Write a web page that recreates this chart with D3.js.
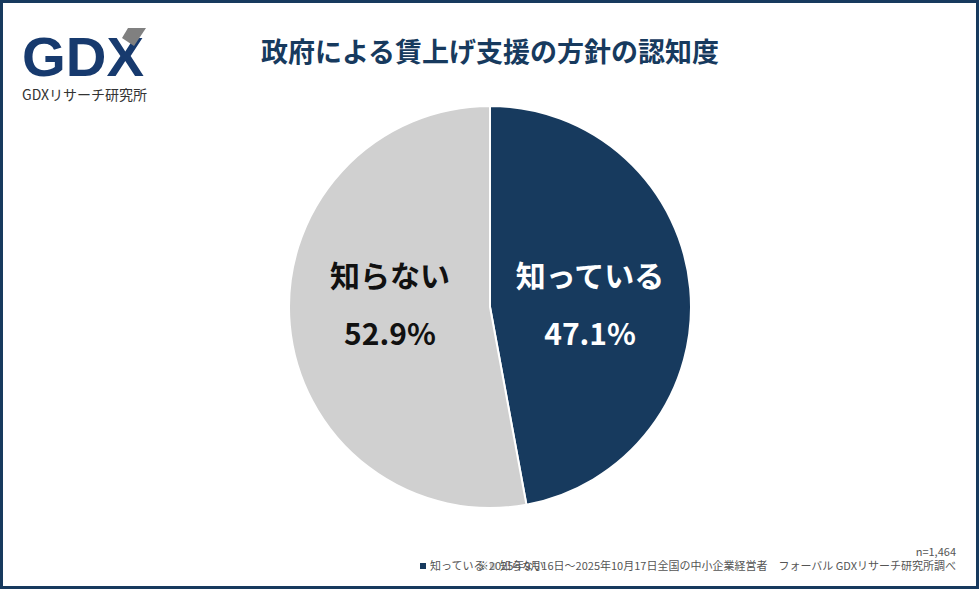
<!DOCTYPE html>
<html><head><meta charset="utf-8">
<script src="https://cdn.jsdelivr.net/npm/d3@7"></script>
<style>body{margin:0;background:#fff;font-family:"Noto Sans CJK JP","Noto Sans",sans-serif}</style>
</head><body>
<script>
var labels = ["知っている", "知らない"];
var values = [47.1, 52.9];
var colors = ["#173a5e", "#d0d0d0"];

var W = 979, H = 589;
var svg = d3.select("body").append("svg").attr("width", W).attr("height", H);
svg.append("rect").attr("x", 1.5).attr("y", 1.5).attr("width", W - 3).attr("height", H - 3)
  .attr("fill", "#fff").attr("stroke", "#173a5e").attr("stroke-width", 3);

// logo
var logo = svg.append("g");
logo.append("text").attr("x", 22).attr("y", 76).text("GDX")
  .attr("font-family", "Liberation Sans, sans-serif").attr("font-weight", "bold")
  .attr("font-size", 56).attr("fill", "#173a6e").attr("textLength", 122).attr("lengthAdjust", "spacingAndGlyphs");
logo.append("path").attr("d", "M128,28 L146,28 L134,46 L122,38 Z").attr("fill", "#808080");
logo.append("text").attr("x", 22).attr("y", 100).text("GDXリサーチ研究所")
  .attr("font-size", 14).attr("fill", "#333");

svg.append("text").attr("x", 490).attr("y", 62).attr("text-anchor", "middle")
  .attr("font-size", 27).attr("font-weight", "bold").attr("fill", "#173a5e")
  .text("政府による賃上げ支援の方針の認知度");

var cx = 490, cy = 307, r = 201;
var pie = d3.pie().sort(null).value(function(d) { return d; });
var arc = d3.arc().innerRadius(0).outerRadius(r);
var g = svg.append("g").attr("transform", "translate(" + cx + "," + cy + ")");
var arcs = pie(values);
g.selectAll("path").data(arcs).enter().append("path")
  .attr("d", arc).attr("fill", function(d, i) { return colors[i]; })
  .attr("stroke", "#fff").attr("stroke-width", 2);

var lab = d3.arc().innerRadius(r * 0.5).outerRadius(r * 0.5);
g.selectAll("g.lbl").data(arcs).enter().append("g").each(function(d, i) {
  var c = lab.centroid(d);
  var t = d3.select(this).append("text").attr("text-anchor", "middle")
    .attr("font-size", 30).attr("font-weight", "bold")
    .attr("fill", i === 0 ? "#fff" : "#111");
  t.append("tspan").attr("x", c[0]).attr("y", -20).text(labels[i]);
  t.append("tspan").attr("x", c[0]).attr("y", 38).text(values[i].toFixed(1) + "%");
});

svg.append("text").attr("x", 956).attr("y", 556).attr("text-anchor", "end")
  .attr("font-size", 11).attr("fill", "#555").text("n=1,464");
// legend (overlapped by the source note, as in the original)
var leg = svg.append("g").attr("font-size", 11).attr("fill", "#555");
labels.forEach(function(l, i) {
  leg.append("rect").attr("x", 420 + i * 70).attr("y", 563).attr("width", 6).attr("height", 6).attr("fill", colors[i]);
  leg.append("text").attr("x", 430 + i * 70).attr("y", 570).text(l);
});
svg.append("text").attr("x", 956).attr("y", 570).attr("text-anchor", "end")
  .attr("font-size", 11).attr("fill", "#555")
  .text("※2025年9月16日～2025年10月17日全国の中小企業経営者　フォーバル GDXリサーチ研究所調べ");
</script>
</body></html>
